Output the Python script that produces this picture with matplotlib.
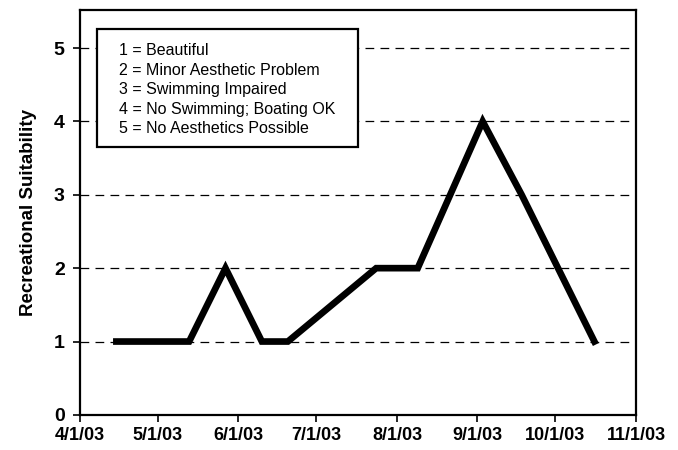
import numpy as np
import pandas as pd
import matplotlib
matplotlib.use("Agg")
from matplotlib import pyplot as plt
from matplotlib.patches import Rectangle

# sample dates and suitability scores
dates = ["2003-04-15", "2003-05-13", "2003-05-27", "2003-06-10", "2003-06-20",
         "2003-07-24", "2003-08-09", "2003-09-03", "2003-09-18", "2003-10-16"]
suitability = [1, 1, 2, 1, 1, 2, 2, 4, 3, 1]

tick_dates = ["2003-04-01", "2003-05-01", "2003-06-01", "2003-07-01",
              "2003-08-01", "2003-09-01", "2003-10-01", "2003-11-01"]
tick_labels = ["4/1/03", "5/1/03", "6/1/03", "7/1/03", "8/1/03", "9/1/03", "10/1/03", "11/1/03"]

key_lines = ["1 = Beautiful", "2 = Minor Aesthetic Problem", "3 = Swimming Impaired",
             "4 = No Swimming; Boating OK", "5 = No Aesthetics Possible"]

plt.rcParams['font.family'] = ['Liberation Sans', 'DejaVu Sans']

x = pd.to_datetime(dates)
xt = pd.to_datetime(tick_dates)

fig = plt.figure(figsize=(6.78, 4.5), dpi=100)
ax = fig.add_axes([0.118, 0.078, 0.82, 0.9])

for yv in [1, 2, 3, 4, 5]:
    ax.axhline(yv, color="black", lw=0.9, ls=(0, (7, 5)), zorder=1)

ax.plot(x, suitability, color="black", lw=4.8, solid_joinstyle="miter", zorder=3)

ax.set_xlim(xt[0], xt[-1])
ax.set_ylim(0, 5.52)
ax.set_xticks(xt)
ax.set_xticklabels(tick_labels, fontsize=13, fontweight="bold")
ax.set_yticks([0, 1, 2, 3, 4, 5])
ax.set_yticklabels(["0", "1", "2", "3", "4", "5"], fontsize=14, fontweight="bold")
ax.tick_params(axis="both", direction="out", length=5, width=1.2, pad=4)
ax.tick_params(axis="y", pad=6)
ax.set_ylabel("Recreational Suitability", fontsize=13.5, fontweight="bold", labelpad=12)

for s in ax.spines.values():
    s.set_linewidth(1.6)
    s.set_color("black")

# key box
ax.add_patch(Rectangle((0.031, 0.662), 0.469, 0.291, transform=ax.transAxes,
                       fc="white", ec="black", lw=1.6, zorder=5))
for i, line in enumerate(key_lines):
    ax.text(0.070, 0.899 - i * 0.0481, line, transform=ax.transAxes, fontsize=11.5,
            va="center", ha="left", zorder=6)

fig.savefig("out.png", dpi=100)
